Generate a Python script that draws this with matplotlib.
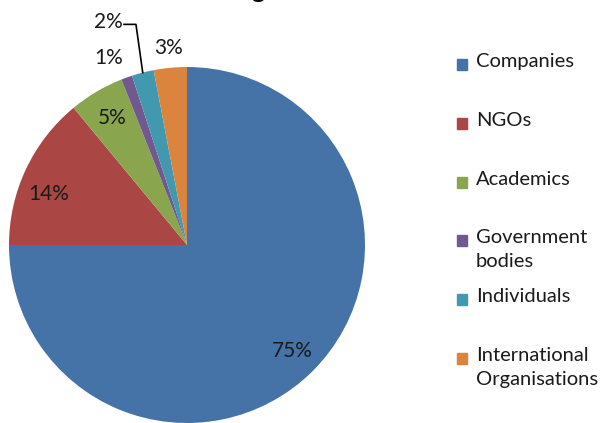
import matplotlib
matplotlib.use('Agg')
import matplotlib.pyplot as plt
from matplotlib.patches import Rectangle
import numpy as np

plt.rcParams['font.family'] = ['Lato', 'DejaVu Sans']

# data
categories = ['Companies', 'NGOs', 'Academics', 'Government\nbodies',
              'Individuals', 'International\nOrganisations']
shares = [75, 14, 5, 1, 2, 3]
colors = ['#4572A7', '#AA4643', '#89A54E', '#71588F', '#4198AF', '#DB843D']

W, H = 609, 423
fig = plt.figure(figsize=(W / 100, H / 100), dpi=100)

# pie: centre (187,245) px, radius 178 px
cx, cy, r = 187, 245, 178
ax = fig.add_axes([(cx - r) / W, (H - cy - r) / H, 2 * r / W, 2 * r / H])
wedges, _ = ax.pie(shares, colors=colors, startangle=90, counterclock=False,
                   radius=1, wedgeprops=dict(linewidth=0))
ax.set_xlim(-1, 1)
ax.set_ylim(-1, 1)
ax.set_aspect('equal')
ax.axis('off')

# label placement per slice: (distance, angle shift in degrees)
label_pos = [(0.84, 0), (0.83, 5), (0.83, 0), (1.14, 3), (1.33, 5), (1.11, 0)]
for i, w in enumerate(wedges):
    mid = np.deg2rad((w.theta1 + w.theta2) / 2)
    d, shift = label_pos[i]
    a = mid + np.deg2rad(shift)
    lx, ly = d * np.cos(a), d * np.sin(a)
    ax.text(lx, ly, '%d%%' % shares[i], ha='center', va='center',
            fontsize=15, color='#1a1a1a', clip_on=False)
    if shares[i] == 2:
        # leader line from slice edge to the right end of the label
        ex, ey = np.cos(mid), np.sin(mid)
        elx, ely = lx + 0.155, ly - 0.015
        ax.plot([ex, elx, lx + 0.088], [ey, ely, ely],
                color='black', lw=1.2, clip_on=False)

# legend, drawn like the Excel one
for i, (lab, c) in enumerate(zip(categories, colors)):
    ytop = 61 + i * 58.8
    fig.patches.append(Rectangle((457 / W, 1 - (ytop + 9) / H), 10 / W, 11 / H,
                                 transform=fig.transFigure, color=c))
    fig.text(476 / W, 1 - (ytop - 8) / H, lab, ha='left', va='top',
             fontsize=14.5, color='#1a1a1a', linespacing=1.5)

# title, mostly cut off at the top
fig.text(258 / W, 1 + 2 / H, 'g', ha='center', va='baseline',
         fontsize=18, fontweight='bold')

fig.savefig('out.png', dpi=100)
